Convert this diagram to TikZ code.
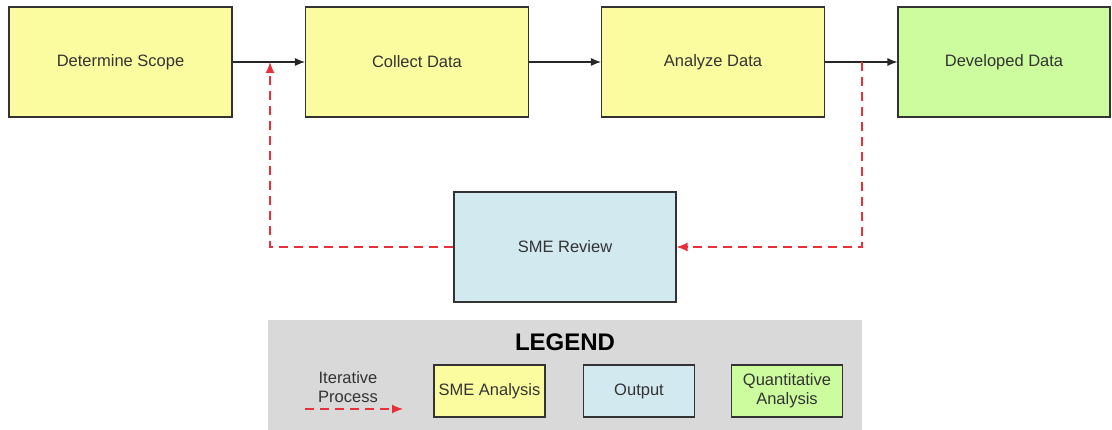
\documentclass[tikz,border=0pt]{standalone}
\usepackage{fontspec}
\setmainfont{Liberation Sans}
\usetikzlibrary{arrows.meta}

\definecolor{smeyellow}{HTML}{FBFB9F}
\definecolor{outblue}{HTML}{D2E9F0}
\definecolor{quantgreen}{HTML}{CDFC9E}
\definecolor{legendgray}{HTML}{D9D9D9}
\definecolor{iterred}{HTML}{E8303A}

\tikzset{
	stepbox/.style={draw=black!80, line width=1.1pt, minimum height=110, align=center},
	keybox/.style={draw=black!80, line width=1.1pt, minimum width=111, minimum height=52, align=center},
	flow/.style={-{Latex[length=10pt, width=8pt]}, line width=1.1pt, black!85},
	iter/.style={line width=1.2pt, iterred, dash pattern=on 9pt off 6pt}
}

\begin{document}
\begin{tikzpicture}[x=1pt, y=-1pt, every node/.append style={text=black!80, font=\fontsize{16.5}{19}\selectfont}]
	\useasboundingbox (0,0) rectangle (1112,430);

	\foreach \i/\x/\t in {1/120.5/Determine Scope, 2/417/Collect Data, 3/713/Analyze Data}
	{
		\node[stepbox, fill=smeyellow, minimum width=223] (s\i) at (\x, 62) {\t};
	}
	\node[stepbox, fill=quantgreen, minimum width=212] (s4) at (1004, 62) {Developed Data};

	\node[stepbox, fill=outblue, minimum width=222] (rev) at (565, 247) {SME Review};

	\foreach \i/\j in {1/2, 2/3, 3/4}
	{
		\draw[flow] (s\i) -- (s\j);
	}

	% iterative loop
	\coordinate (out) at (862, 62);
	\coordinate (back) at (270, 62);
	\draw[iter, -{Latex[length=11pt, width=9pt]}] (out) |- (rev.east);
	\draw[iter, -{Latex[length=11pt, width=9pt]}] (rev.west) -| (back);

	% legend
	\node[fill=legendgray, minimum width=594, minimum height=110] (legend) at (565, 375) {};
	\node[font=\fontsize{24}{28}\selectfont\bfseries, text=black] (title) at (565, 342) {LEGEND};
	\node[align=center, font=\fontsize{16.5}{19}\selectfont] (itxt) at (348, 387) {Iterative\\Process};
	\coordinate (ia) at (305, 409);
	\coordinate (ib) at (403, 409);
	\draw[iter, -{Latex[length=11pt, width=9pt]}] (ia) -- (ib);

	\node[keybox, fill=smeyellow] (k1) at (489.5, 391) {SME Analysis};
	\node[keybox, fill=outblue] (k2) at (639, 391) {Output};
	\node[keybox, fill=quantgreen] (k3) at (787, 391) {Quantitative\\Analysis};

\end{tikzpicture}
\end{document}
